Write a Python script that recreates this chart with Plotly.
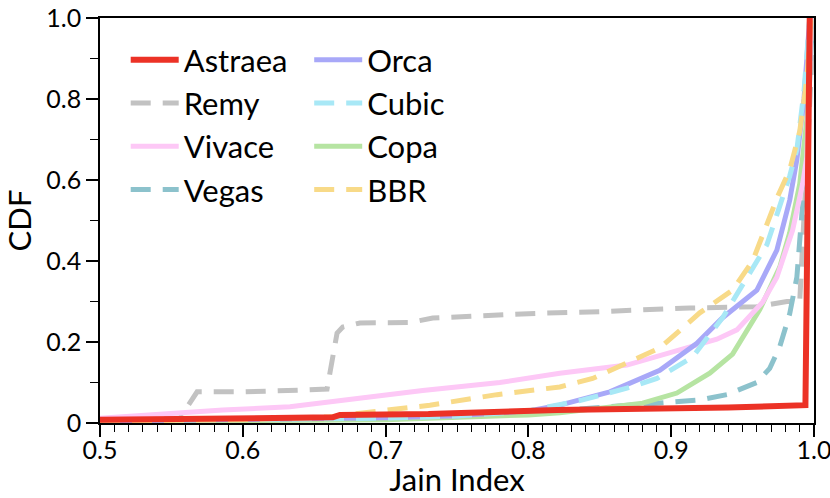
import plotly.graph_objects as go

# CDF of Jain fairness index per scheme

astraea_x = [0.5, 0.55, 0.6, 0.65, 0.663, 0.668, 0.73, 0.82, 0.87, 0.94, 0.994, 0.997]
astraea_y = [0.008, 0.009, 0.01, 0.012, 0.014, 0.02, 0.022, 0.032, 0.034, 0.038, 0.044, 1.0]

remy_x = [0.5, 0.53, 0.556, 0.568, 0.6, 0.64, 0.659, 0.666, 0.67, 0.682, 0.717, 0.733,
          0.8, 0.85, 0.913, 0.96, 0.981, 0.99, 0.992, 0.995, 0.998, 1.0]
remy_y = [0.01, 0.011, 0.012, 0.077, 0.077, 0.081, 0.084, 0.222, 0.237, 0.247, 0.248, 0.259,
          0.27, 0.275, 0.284, 0.287, 0.30, 0.30, 0.45, 0.63, 0.85, 1.0]

vivace_x = [0.5, 0.54, 0.586, 0.633, 0.68, 0.726, 0.78, 0.822, 0.869, 0.915, 0.932,
            0.946, 0.955, 0.964, 0.974, 0.985, 0.992, 0.995, 0.998]
vivace_y = [0.012, 0.022, 0.032, 0.04, 0.061, 0.08, 0.1, 0.123, 0.143, 0.188, 0.207,
            0.23, 0.262, 0.298, 0.36, 0.476, 0.59, 0.657, 1.0]

vegas_x = [0.5, 0.7, 0.8, 0.857, 0.892, 0.92, 0.939, 0.96, 0.969, 0.976, 0.983, 0.988,
           0.99, 0.992, 0.994, 0.997, 0.999]
vegas_y = [0.004, 0.01, 0.025, 0.04, 0.052, 0.057, 0.07, 0.10, 0.135, 0.188, 0.27, 0.36,
           0.45, 0.55, 0.625, 0.85, 1.0]

orca_x = [0.5, 0.6, 0.7, 0.75, 0.8, 0.822, 0.857, 0.892, 0.918, 0.936, 0.96,
          0.974, 0.983, 0.988, 0.993, 0.997]
orca_y = [0.005, 0.008, 0.013, 0.018, 0.03, 0.044, 0.077, 0.13, 0.197, 0.26, 0.328,
          0.427, 0.55, 0.65, 0.8, 1.0]

cubic_x = [0.5, 0.6, 0.7, 0.75, 0.8, 0.838, 0.869, 0.89, 0.915, 0.936, 0.953,
           0.967, 0.975, 0.983, 0.988, 0.993, 0.997]
cubic_y = [0.005, 0.008, 0.012, 0.017, 0.03, 0.057, 0.086, 0.11, 0.163, 0.26, 0.36,
           0.44, 0.525, 0.61, 0.675, 0.82, 1.0]

copa_x = [0.5, 0.7, 0.8, 0.822, 0.88, 0.904, 0.927, 0.943, 0.962, 0.976, 0.983,
          0.99, 0.995, 0.998]
copa_y = [0.004, 0.008, 0.02, 0.025, 0.049, 0.074, 0.123, 0.17, 0.28, 0.385, 0.47,
          0.59, 0.75, 1.0]

bbr_x = [0.5, 0.6, 0.66, 0.7, 0.731, 0.778, 0.822, 0.845, 0.869, 0.892, 0.92,
         0.943, 0.957, 0.967, 0.975, 0.983, 0.99, 0.995, 0.998]
bbr_y = [0.005, 0.008, 0.015, 0.03, 0.044, 0.07, 0.089, 0.11, 0.148, 0.185, 0.272,
         0.328, 0.40, 0.49, 0.563, 0.625, 0.72, 0.85, 1.0]

x_ticks = [0.5, 0.6, 0.7, 0.8, 0.9, 1.0]
x_tick_labels = ['0.5', '0.6', '0.7', '0.8', '0.9', '1.0']
y_ticks = [0.0, 0.2, 0.4, 0.6, 0.8, 1.0]
y_tick_labels = ['0', '0.2', '0.4', '0.6', '0.8', '1.0']

# (name, x, y, colour, dash, width, legend, rank) in drawing order
series = [
    ('Remy',    remy_x,    remy_y,    '#c2c2c2', '20px,12px', 5, 'legend',  2),
    ('Vegas',   vegas_x,   vegas_y,   '#8cc2cc', '20px,12px', 5, 'legend',  4),
    ('Copa',    copa_x,    copa_y,    '#b6e4a2', 'solid',     5, 'legend2', 3),
    ('Vivace',  vivace_x,  vivace_y,  '#fdc8f6', 'solid',     5, 'legend',  3),
    ('Orca',    orca_x,    orca_y,    '#a8a8f8', 'solid',     5, 'legend2', 1),
    ('Cubic',   cubic_x,   cubic_y,   '#a8e8f6', '20px,12px', 5, 'legend2', 2),
    ('BBR',     bbr_x,     bbr_y,     '#f8da88', '20px,12px', 5, 'legend2', 4),
    ('Astraea', astraea_x, astraea_y, '#ec3226', 'solid',     6, 'legend',  1),
]

fig = go.Figure()
for name, xs, ys, color, dash, width, leg, rank in series:
    fig.add_trace(go.Scatter(
        x=xs, y=ys, mode='lines', name=name,
        line=dict(color=color, dash=dash, width=width),
        legend=leg, legendrank=rank, legendgroup=name,
    ))

legend_style = dict(
    font=dict(size=31, color='black'),
    bgcolor='rgba(0,0,0,0)',
    yanchor='top', y=0.963,
    xanchor='left',
    tracegroupgap=0,
    itemwidth=48,
)

fig.update_layout(
    width=830,
    height=498,
    font_family='Lato',
    font_color='black',
    plot_bgcolor='white',
    paper_bgcolor='white',
    margin=dict(l=100, r=16, t=18, b=75, autoexpand=False),
    legend=dict(x=0.036, **legend_style),
    legend2=dict(x=0.293, **legend_style),
)

axis_style = dict(
    showline=True, linecolor='black', linewidth=1.5, mirror=True,
    showgrid=False, zeroline=False, automargin=True,
    ticks='outside', ticklen=12, tickwidth=1.5, tickcolor='black',
    tickfont=dict(size=25, color='black'),
    ticklabeloverflow='allow',
)

fig.update_xaxes(
    range=[0.5, 1.0], tickvals=x_ticks, ticktext=x_tick_labels,
    ticklabelstandoff=-8,
    minor=dict(dtick=0.01, ticks='outside', ticklen=7, tickwidth=1.2, tickcolor='black'),
    title=dict(text='Jain Index', font=dict(size=31), standoff=0),
    **axis_style,
)
fig.update_yaxes(
    range=[0, 1.0], tickvals=y_ticks, ticktext=y_tick_labels,
    minor=dict(dtick=0.1, ticks='outside', ticklen=8, tickwidth=1.2, tickcolor='black'),
    title=dict(text='CDF', font=dict(size=31), standoff=14),
    **axis_style,
)

# drop the browser's default 8px body margin so the figure fills the window
fig.write_html(
    'out.html',
    config={'displayModeBar': False},
    post_script="document.body.style.margin = '0';",
)
